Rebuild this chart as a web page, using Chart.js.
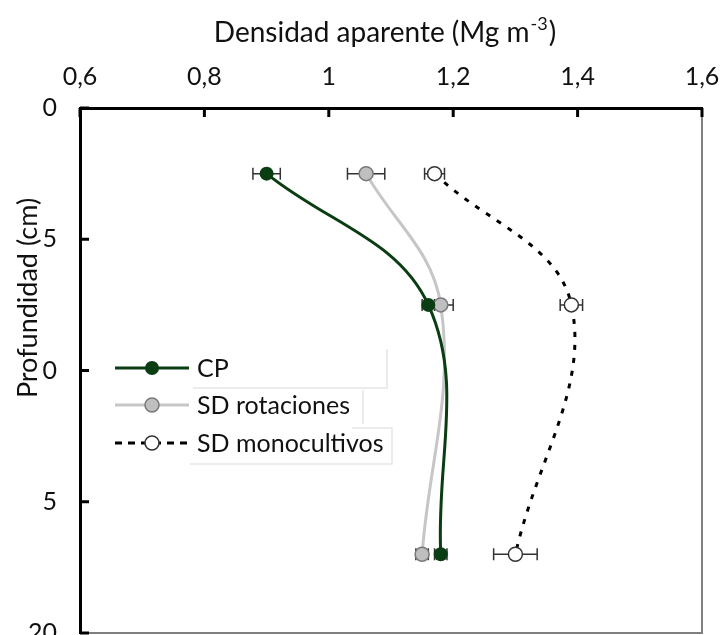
<!DOCTYPE html>
<html><head><meta charset="utf-8">
<script src="https://cdn.jsdelivr.net/npm/chart.js@4"></script>
<style>html,body{margin:0;padding:0;background:#fff}#wrap{width:720px;height:635px}canvas{display:block}</style>
</head><body><div id="wrap"><canvas id="c" width="720" height="635"></canvas></div>
<script>
// ---- data ----
const depths = [2.5, 7.5, 17];
const cpValues = [0.90, 1.16, 1.18];
const cpErrors = [0.022, 0.01, 0.01];
const rotValues = [1.06, 1.18, 1.15];
const rotErrors = [0.03, 0.02, 0.01];
const monoValues = [1.17, 1.39, 1.30];
const monoErrors = [0.016, 0.018, 0.035];
const seriesNames = ['CP', 'SD rotaciones', 'SD monocultivos'];
const densityTicks = [0.6, 0.8, 1.0, 1.2, 1.4, 1.6];
const depthTicks = [0, 5, 10, 15, 20];
const depthTickLabels = ['0', '5', '0', '5', '20'];
const xTitle = 'Densidad aparente (Mg m';
const xTitleSup = '-3';
const yTitle = 'Profundidad (cm)';

const FONT = "Lato, 'Open Sans', sans-serif";
const GREEN = '#0b3d13';
const GRAYLINE = '#c6c6c6';
const GRAYFILL = '#bfbfbf';
const GRAYEDGE = '#7a7a7a';

function pts(vals) { return vals.map((v, i) => ({ x: v, y: depths[i] })); }

const seriesStyles = [
  { line: GREEN, fill: GREEN, edge: GREEN, dash: [], width: 3 },
  { line: GRAYLINE, fill: GRAYFILL, edge: GRAYEDGE, dash: [], width: 3 },
  { line: '#000', fill: '#fff', edge: '#333', dash: [5, 8], width: 3 }
];
const seriesErrors = [cpErrors, rotErrors, monoErrors];

const datasets = [cpValues, rotValues, monoValues].map((vals, k) => ({
  label: seriesNames[k],
  data: pts(vals),
  showLine: true,
  tension: 0.38,
  borderColor: seriesStyles[k].line,
  borderWidth: seriesStyles[k].width,
  borderDash: seriesStyles[k].dash,
  pointRadius: 7,
  pointBackgroundColor: seriesStyles[k].fill,
  pointBorderColor: seriesStyles[k].edge,
  pointBorderWidth: k === 0 ? 0 : 1.5,
  pointStyle: 'circle'
}));

function zeroPad(s) { s.paddingLeft = 0; s.paddingRight = 0; s.paddingTop = 0; s.paddingBottom = 0; }

const decor = {
  id: 'decor',
  beforeDatasetsDraw(chart) {
    const { ctx, chartArea: a, scales: { x, y } } = chart;
    ctx.save();
    // right & bottom frame
    ctx.strokeStyle = '#7f7f7f'; ctx.lineWidth = 2;
    ctx.beginPath();
    ctx.moveTo(a.right, a.top); ctx.lineTo(a.right, a.bottom); ctx.lineTo(a.left, a.bottom);
    ctx.stroke();
    // inward tick marks
    ctx.strokeStyle = '#000'; ctx.lineWidth = 3;
    densityTicks.forEach(v => {
      const px = x.getPixelForValue(v);
      ctx.beginPath(); ctx.moveTo(px, a.top); ctx.lineTo(px, a.top + 9); ctx.stroke();
    });
    depthTicks.forEach(v => {
      const py = y.getPixelForValue(v);
      ctx.beginPath(); ctx.moveTo(a.left, py); ctx.lineTo(a.left + 9, py); ctx.stroke();
    });
    // faint legend boxes
    ctx.strokeStyle = '#e6e6e6'; ctx.lineWidth = 1.5;
    ctx.beginPath();
    ctx.moveTo(193, 388); ctx.lineTo(387, 388); ctx.lineTo(387, 349);
    ctx.moveTo(363, 390); ctx.lineTo(363, 424);
    ctx.moveTo(352, 428); ctx.lineTo(392, 428); ctx.lineTo(392, 464); ctx.lineTo(190, 464);
    ctx.stroke();
    // error bars
    ctx.strokeStyle = '#333'; ctx.lineWidth = 1.5;
    chart.data.datasets.forEach((ds, k) => {
      ds.data.forEach((p, i) => {
        const e = seriesErrors[k][i];
        const x0 = x.getPixelForValue(p.x - e), x1 = x.getPixelForValue(p.x + e);
        const py = y.getPixelForValue(p.y);
        ctx.beginPath();
        ctx.moveTo(x0, py); ctx.lineTo(x1, py);
        ctx.moveTo(x0, py - 6); ctx.lineTo(x0, py + 6);
        ctx.moveTo(x1, py - 6); ctx.lineTo(x1, py + 6);
        ctx.stroke();
      });
    });
    ctx.restore();
  },
  afterDraw(chart) {
    const { ctx } = chart;
    ctx.save();
    ctx.fillStyle = '#111';
    // x title with superscript
    const mainFont = '28px ' + FONT, supFont = '18px ' + FONT;
    ctx.font = mainFont; const w1 = ctx.measureText(xTitle).width; const w3 = ctx.measureText(')').width;
    ctx.font = supFont; const w2 = ctx.measureText(xTitleSup).width;
    let sx = 384 - (w1 + w2 + w3) / 2; const by = 42;
    ctx.textBaseline = 'alphabetic'; ctx.textAlign = 'left';
    ctx.font = mainFont; ctx.fillText(xTitle, sx, by);
    ctx.font = supFont; ctx.fillText(xTitleSup, sx + w1 + 1, by - 12);
    ctx.font = mainFont; ctx.fillText(')', sx + w1 + w2 + 2, by);
    // y title
    ctx.translate(28, 298); ctx.rotate(-Math.PI / 2);
    ctx.textAlign = 'center'; ctx.textBaseline = 'middle';
    ctx.font = '27px ' + FONT; ctx.fillText(yTitle, 0, 0);
    ctx.restore();
    // legend
    ctx.save();
    const rows = [368, 405, 443];
    rows.forEach((ry, k) => {
      const st = seriesStyles[k];
      ctx.strokeStyle = st.line; ctx.lineWidth = st.width; ctx.setLineDash(k === 2 ? [7, 6] : st.dash);
      ctx.beginPath(); ctx.moveTo(115, ry); ctx.lineTo(189, ry); ctx.stroke();
      ctx.setLineDash([]);
      ctx.beginPath(); ctx.arc(152, ry, 7, 0, Math.PI * 2);
      ctx.fillStyle = st.fill; ctx.fill();
      if (k > 0) { ctx.strokeStyle = st.edge; ctx.lineWidth = 1.5; ctx.stroke(); }
      ctx.fillStyle = '#111'; ctx.font = '25px ' + FONT;
      ctx.textAlign = 'left'; ctx.textBaseline = 'middle';
      ctx.fillText(seriesNames[k], 197, ry + 1);
    });
    ctx.restore();
  }
};

new Chart(document.getElementById('c'), {
  type: 'scatter',
  data: { datasets },
  options: {
    responsive: false, animation: false, devicePixelRatio: 1,
    layout: { autoPadding: false, padding: { left: 0, right: 18, top: 0, bottom: 2 } },
    plugins: { legend: { display: false }, tooltip: { enabled: false } },
    scales: {
      x: {
        type: 'linear', position: 'top', min: 0.6, max: 1.6,
        afterBuildTicks: s => { s.ticks = densityTicks.map(v => ({ value: v })); },
        afterFit: s => { s.height = 108; zeroPad(s); },
        ticks: { callback: v => String(Math.round(v * 10) / 10).replace('.', ','), font: { family: FONT, size: 25 }, color: '#111', padding: 16, maxRotation: 0 },
        grid: { drawOnChartArea: false, drawTicks: false },
        border: { display: true, color: '#000', width: 3 }
      },
      y: {
        type: 'linear', reverse: true, min: 0, max: 20,
        afterBuildTicks: s => { s.ticks = depthTicks.map(v => ({ value: v })); },
        afterFit: s => { s.width = 80; zeroPad(s); },
        ticks: { callback: (v, i) => depthTickLabels[i], font: { family: FONT, size: 25 }, color: '#111', padding: 23 },
        grid: { drawOnChartArea: false, drawTicks: false },
        border: { display: true, color: '#000', width: 3 }
      }
    }
  },
  plugins: [decor]
});
</script></body></html>
